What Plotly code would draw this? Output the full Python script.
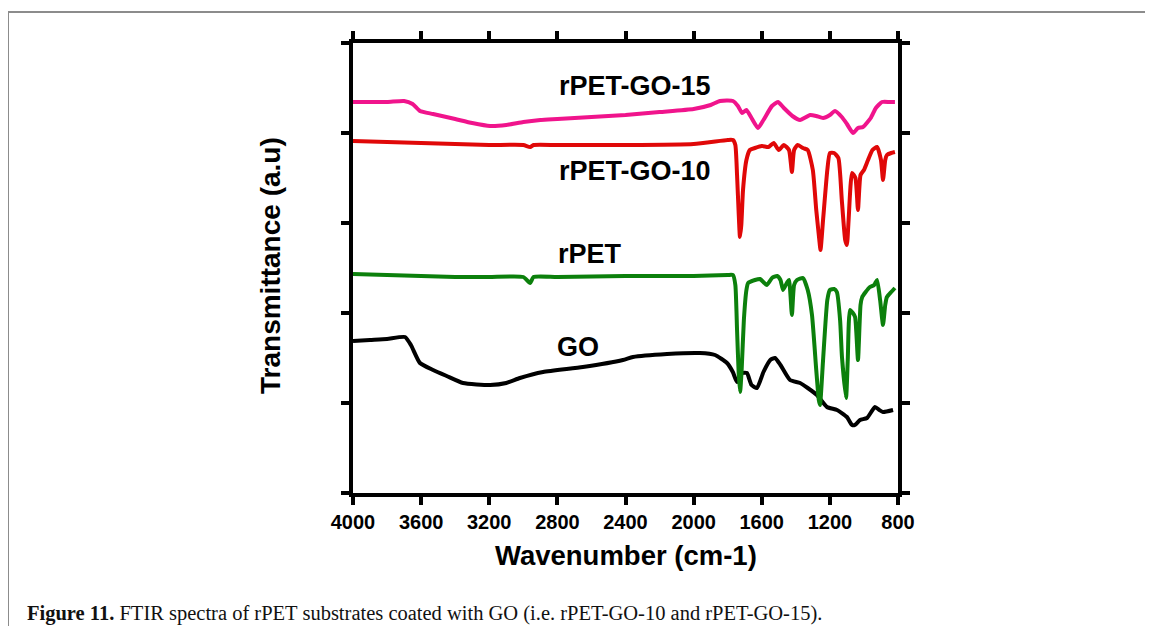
import plotly.graph_objects as go

# ---- data (wavenumber cm-1, transmittance in arbitrary offset units) ----
go_wn = [4000, 3900, 3800, 3695, 3660, 3607, 3530, 3450, 3354, 3195, 3100, 3020, 2884, 2650, 2415, 2356,
         2156, 1963, 1874, 1804, 1770, 1745, 1715, 1687, 1660, 1628, 1590, 1550, 1522, 1490, 1434, 1375,
         1330, 1276, 1217, 1158, 1100, 1070, 1053, 1023, 982, 935, 910, 888, 829]
go_px = [341, 340, 339, 337, 345, 363, 370, 376, 383, 385, 383, 378, 372, 367, 360, 357,
         354, 353, 355, 363, 372, 382, 373, 373, 385, 388, 372, 360, 358, 365, 380, 383,
         388, 395, 407, 410, 417, 425, 425, 420, 418, 407, 410, 412, 410]

rpet_wn = [4000, 3800, 3600, 3400, 3200, 3000, 2960, 2940, 2800, 2400, 2000, 1800, 1769, 1755, 1745, 1735,
           1727, 1718, 1705, 1690, 1680, 1640, 1610, 1570, 1540, 1510, 1490, 1475, 1450, 1440, 1423, 1410,
           1393, 1358, 1330, 1305, 1280, 1265, 1258, 1240, 1215, 1200, 1175, 1159, 1140, 1129, 1105, 1095,
           1082, 1065, 1052, 1035, 1020, 1010, 990, 965, 940, 923, 905, 888, 875, 865, 840, 818]
rpet_px = [274, 275, 276, 277, 277, 277, 283, 277, 277, 276, 276, 275, 275, 285, 330, 375,
           392, 370, 320, 290, 283, 280, 279, 285, 278, 276, 280, 290, 282, 280, 315, 285,
           280, 278, 290, 315, 370, 400, 405, 360, 300, 290, 289, 292, 320, 357, 398, 360,
           310, 313, 317, 360, 305, 297, 292, 287, 285, 280, 300, 325, 305, 297, 292, 288]

go10_wn = [4000, 3800, 3600, 3400, 3200, 3000, 2960, 2940, 2800, 2400, 2000, 1800, 1769, 1755, 1745, 1735,
           1728, 1720, 1710, 1690, 1670, 1640, 1600, 1560, 1530, 1500, 1470, 1440, 1423, 1410, 1390, 1358,
           1330, 1300, 1280, 1262, 1255, 1240, 1215, 1200, 1175, 1150, 1130, 1110, 1100, 1090, 1070, 1050,
           1035, 1020, 1000, 976, 950, 923, 900, 888, 875, 865, 840, 818]
go10_px = [141, 142, 143, 144, 145, 145, 147, 145, 145, 145, 144, 140, 140, 145, 175, 215,
           237, 225, 190, 160, 150, 148, 146, 147, 143, 150, 145, 150, 172, 150, 145, 148,
           150, 170, 210, 240, 250, 220, 170, 153, 153, 158, 200, 240, 245, 220, 173, 178,
           210, 175, 170, 160, 150, 147, 160, 180, 160, 155, 153, 152]

go15_wn = [4000, 3800, 3700, 3650, 3607, 3530, 3400, 3300, 3195, 3100, 3000, 2900, 2800, 2600, 2400, 2200,
           2000, 1900, 1845, 1769, 1740, 1715, 1690, 1660, 1622, 1590, 1540, 1505, 1470, 1420, 1375, 1316,
           1280, 1240, 1200, 1170, 1130, 1100, 1064, 1035, 1005, 960, 930, 894, 850, 818]
go15_px = [102, 102, 101, 104, 111, 114, 119, 123, 126, 125, 122, 120, 119, 117, 115, 112,
           109, 105, 101, 101, 106, 113, 110, 118, 128, 120, 106, 102, 108, 116, 120, 115,
           116, 118, 115, 111, 117, 124, 133, 128, 127, 118, 108, 102, 102, 102]

x_ticks = [4000, 3600, 3200, 2800, 2400, 2000, 1600, 1200, 800]


def to_val(p):
    return [(493 - v) / 90.0 for v in p]


series = [
    ("GO", go_wn, to_val(go_px), "#000000"),
    ("rPET", rpet_wn, to_val(rpet_px), "#0c800c"),
    ("rPET-GO-10", go10_wn, to_val(go10_px), "#e00808"),
    ("rPET-GO-15", go15_wn, to_val(go15_px), "#f0148c"),
]

fig = go.Figure()
for name, xs, ys, col in series:
    fig.add_trace(go.Scatter(x=xs, y=ys, mode="lines", name=name,
                             line=dict(color=col, width=4, shape="spline", smoothing=0.5),
                             showlegend=False))

font_fam = "Liberation Sans, Arial, sans-serif"
labels = [("rPET-GO-15", 2344, 4.52), ("rPET-GO-10", 2344, 3.58), ("rPET", 2608, 2.66), ("GO", 2679, 1.62)]
for txt, xv, yv in labels:
    fig.add_annotation(x=xv, y=yv, text=txt, showarrow=False, xref="x", yref="y",
                       font=dict(family=font_fam, size=27, color="black", weight="bold"))

fig.add_annotation(x=0.5, y=(493 - 555) / 450.0, xref="paper", yref="paper", yanchor="middle",
                   text="Wavenumber (cm-1)", showarrow=False,
                   font=dict(family=font_fam, size=27.5, color="black", weight="bold"))

fig.add_annotation(x=(270 - 353) / 545.0, y=(493 - 266) / 450.0, xref="paper", yref="paper",
                   xanchor="center", yanchor="middle", textangle=-90,
                   text="Transmittance (a.u)", showarrow=False,
                   font=dict(family=font_fam, size=28, color="black", weight="bold"))

fig.add_annotation(x=(25 - 353) / 545.0, y=(493 - 613) / 450.0, xref="paper", yref="paper",
                   xanchor="left", yanchor="middle", showarrow=False,
                   text="<b>Figure 11.</b> FTIR spectra of rPET substrates coated with GO (i.e. rPET-GO-10 and rPET-GO-15).",
                   font=dict(family="Liberation Serif, Times New Roman, serif", size=20.5, color="#111111"))

# gray page frame
fx0 = (8 - 353) / 545.0
fx1 = (1153 - 353) / 545.0
fy_top = (493 - 12) / 450.0
fy_bot = (493 - 626) / 450.0
fig.add_shape(type="line", xref="paper", yref="paper", x0=fx0, x1=fx1, y0=fy_top, y1=fy_top,
              line=dict(color="#8c8c8c", width=2))
fig.add_shape(type="line", xref="paper", yref="paper", x0=fx0, x1=fx0, y0=fy_top, y1=fy_bot,
              line=dict(color="#8c8c8c", width=2))

fig.update_xaxes(range=[4000, 800], tickmode="array", tickvals=x_ticks, ticktext=[str(t) for t in x_ticks],
                 showline=True, linewidth=4, linecolor="black", mirror="ticks",
                 ticks="outside", ticklen=8, tickwidth=4, tickcolor="black",
                 showgrid=False, zeroline=False,
                 tickfont=dict(family=font_fam, size=20, color="black", weight="bold"))
fig.update_yaxes(range=[0, 5], tickmode="array", tickvals=[0, 1, 2, 3, 4, 5], showticklabels=False,
                 showline=True, linewidth=4, linecolor="black", mirror="ticks",
                 ticks="outside", ticklen=8, tickwidth=4, tickcolor="black",
                 showgrid=False, zeroline=False)

# page body has an 8px margin, so the figure is 8px smaller and shifted
fig.update_layout(width=1145, height=631, margin=dict(l=345, r=255, t=35, b=146),
                  paper_bgcolor="white", plot_bgcolor="white")

fig.write_html("out.html")
